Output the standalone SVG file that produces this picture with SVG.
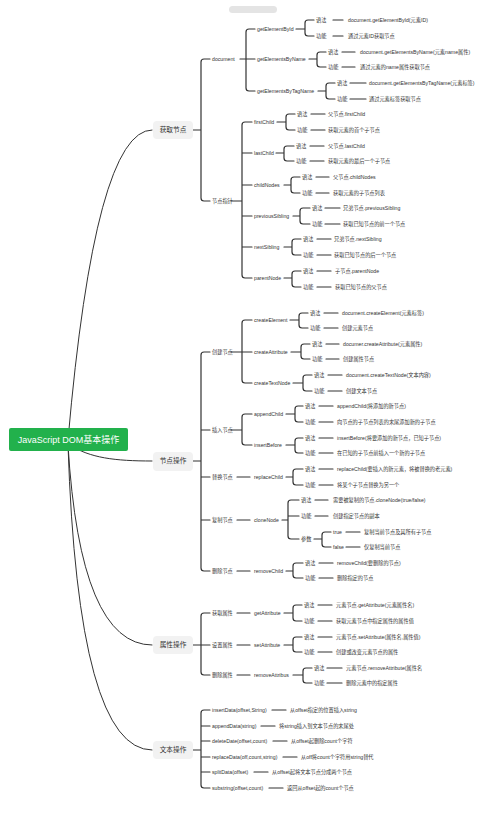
<svg xmlns="http://www.w3.org/2000/svg" width="504" height="825" viewBox="0 0 504 825">
<style>
text{font-family:"Liberation Sans","Noto Sans CJK SC",sans-serif;fill:#333}
.t{font-size:5.2px}
.m{font-size:6.7px;text-anchor:middle}
.r{font-size:9px;fill:#fff;text-anchor:middle}
.box{fill:#f2f2f2}
#connectors path{fill:none;stroke:#333;stroke-width:1.2;stroke-linecap:round}
#connectors .c{stroke-width:1}
</style>
<rect width="504" height="825" fill="#fff"/>
<rect x="229" y="6" width="48" height="7" rx="3.5" fill="#e4e4e4"/>
<g id="connectors">
<path class="c" d="M68,440Q95,130 152,130"/>
<path class="c" d="M70,445C90,458 115,461 152,461"/>
<path class="c" d="M68,445Q80,645 152,645"/>
<path class="c" d="M68,445Q78,750 152,750"/>
<!-- 获取节点 -->
<path d="M193,130H201M210,59H204Q201,59 201,62V198Q201,201 204,201H210"/>
<path d="M240,59H246M255,29H249Q246,29 246,32V88Q246,91 249,91H255M246,59H255"/>
<path d="M296,29H305M314,20H308Q305,20 305,23V33Q305,36 308,36H314M333,20H343M333,36H343"/>
<path d="M309,59H317M326,52H320Q317,52 317,55V64Q317,67 320,67H326M342,52H355M342,67H355"/>
<path d="M318,91H326M335,83H329Q326,83 326,86V96Q326,99 329,99H335M350,83H366M350,99H366"/>
<path d="M231,201H242M252,122H245Q242,122 242,125V275Q242,278 245,278H252M242,153H252M242,185H252M242,216H252M242,247H252"/>
<path d="M277,122H286M295,114H289Q286,114 286,117V127Q286,130 289,130H295M311,114H325M311,130H325"/>
<path d="M276,153H284M294,146H287Q284,146 284,149V158Q284,161 287,161H294M310,146H324M310,161H324"/>
<path d="M284,185H291M300,177H294Q291,177 291,180V190Q291,193 294,193H300M316,177H329M316,193H329"/>
<path d="M293,216H300M310,208H303Q300,208 300,211V221Q300,224 303,224H310M325,208H340M325,224H340"/>
<path d="M284,247H292M301,239H295Q292,239 292,242V252Q292,255 295,255H301M317,239H331M317,255H331"/>
<path d="M284,278H292M301,271H295Q292,271 292,274V284Q292,287 295,287H301M317,271H331M317,287H331"/>
<!-- 节点操作 -->
<path d="M193,461H201M210,352H204Q201,352 201,355V568Q201,571 204,571H210M201,430H210M201,477H210M201,520H210"/>
<path d="M231,352H242M252,320H245Q242,320 242,323V380Q242,383 245,383H252M242,352H252"/>
<path d="M290,320H299M308,313H302Q299,313 299,316V325Q299,328 302,328H308M324,313H338M324,328H338"/>
<path d="M291,352H301M310,344H304Q301,344 301,347V356Q301,359 304,359H310M326,344H339M326,359H339"/>
<path d="M293,383H303M312,375H306Q303,375 303,378V388Q303,391 306,391H312M328,375H342M328,391H342"/>
<path d="M231,430H242M252,414H245Q242,414 242,417V442Q242,445 245,445H252"/>
<path d="M286,414H295M303,406H298Q295,406 295,409V419Q295,422 298,422H303M319,406H333M319,422H333"/>
<path d="M286,445H295M303,438H298Q295,438 295,441V450Q295,453 298,453H303M319,438H333M319,453H333"/>
<path d="M237,477H250M286,477H293M303,469H296Q293,469 293,472V482Q293,485 296,485H303M319,469H333M319,485H333"/>
<path d="M237,520H250M282,520H288M299,500H291Q288,500 288,503V536Q288,539 291,539H299M288,516H299M315,500H328M315,516H328"/>
<path d="M314,539H322M331,532H325Q322,532 322,535V544Q322,547 325,547H331M346,532H360M346,547H360"/>
<path d="M237,571H250M286,571H293M303,563H296Q293,563 293,566V575Q293,578 296,578H303M319,563H333M319,578H333"/>
<!-- 属性操作 -->
<path d="M193,645H201M210,613H204Q201,613 201,616V672Q201,675 204,675H210M201,645H210"/>
<path d="M237,613H250M284,613H293M302,605H296Q293,605 293,608V618Q293,621 296,621H302M318,605H332M318,621H332"/>
<path d="M237,645H250M284,645H293M302,637H296Q293,637 293,640V649Q293,652 296,652H302M318,637H332M318,652H332"/>
<path d="M237,675H250M293,675H303M312,668H306Q303,668 303,671V680Q303,683 306,683H312M327,668H342M327,683H342"/>
<!-- 文本操作 -->
<path d="M193,750H201M210,710H204Q201,710 201,713V785Q201,788 204,788H210M201,726H210M201,741H210M201,757H210M201,772H210"/>
<path d="M272,710H286M261,726H275M273,741H287M283,757H297M254,772H268M269,788H283"/>
</g>
<g id="root"><rect x="9" y="428" width="119" height="23" rx="2" fill="#22b14c"/><text class="r" x="68.5" y="439.5" dy="0.35em">JavaScript DOM基本操作</text></g>
<g id="get-node"><rect class="box" x="153" y="121" width="40" height="18" rx="4"/><text class="m" x="173" y="130" dy="0.35em">获取节点</text></g>
<g id="node-op"><rect class="box" x="153" y="452" width="40" height="19" rx="4"/><text class="m" x="173" y="461" dy="0.35em">节点操作</text></g>
<g id="attr-op"><rect class="box" x="153" y="636" width="40" height="18" rx="4"/><text class="m" x="173" y="645" dy="0.35em">属性操作</text></g>
<g id="text-op"><rect class="box" x="153" y="741" width="40" height="18" rx="4"/><text class="m" x="173" y="750" dy="0.35em">文本操作</text></g>
<g class="t">
<g id="document"><text x="212" y="59" dy="0.35em">document</text></g>
<g id="getElementById"><text x="257" y="29" dy="0.35em">getElementById</text><text x="316" y="20" dy="0.35em">语法</text><text x="348" y="20" dy="0.35em">document.getElementById(元素ID)</text><text x="316" y="36" dy="0.35em">功能</text><text x="348" y="36" dy="0.35em">通过元素ID获取节点</text></g>
<g id="getElementsByName"><text x="257" y="59" dy="0.35em">getElementsByName</text><text x="328" y="52" dy="0.35em">语法</text><text x="360" y="52" dy="0.35em">document.getElementsByName(元素name属性)</text><text x="328" y="67" dy="0.35em">功能</text><text x="360" y="67" dy="0.35em">通过元素的name属性获取节点</text></g>
<g id="getElementsByTagName"><text x="257" y="91" dy="0.35em">getElementsByTagName</text><text x="337" y="83" dy="0.35em">语法</text><text x="369" y="83" dy="0.35em">document.getElementsByTagName(元素标签)</text><text x="337" y="99" dy="0.35em">功能</text><text x="369" y="99" dy="0.35em">通过元素标签获取节点</text></g>
<g id="node-pointer"><text x="212" y="201" dy="0.35em">节点指针</text></g>
<g id="firstChild"><text x="254" y="122" dy="0.35em">firstChild</text><text x="297" y="114" dy="0.35em">语法</text><text x="328" y="114" dy="0.35em">父节点.firstChild</text><text x="297" y="130" dy="0.35em">功能</text><text x="328" y="130" dy="0.35em">获取元素的首个子节点</text></g>
<g id="lastChild"><text x="254" y="153" dy="0.35em">lastChild</text><text x="296" y="146" dy="0.35em">语法</text><text x="328" y="146" dy="0.35em">父节点.lastChild</text><text x="296" y="161" dy="0.35em">功能</text><text x="328" y="161" dy="0.35em">获取元素的最后一个子节点</text></g>
<g id="childNodes"><text x="254" y="185" dy="0.35em">childNodes</text><text x="302" y="177" dy="0.35em">语法</text><text x="333" y="177" dy="0.35em">父节点.childNodes</text><text x="302" y="193" dy="0.35em">功能</text><text x="333" y="193" dy="0.35em">获取元素的子节点列表</text></g>
<g id="previousSibling"><text x="254" y="216" dy="0.35em">previousSibling</text><text x="312" y="208" dy="0.35em">语法</text><text x="343" y="208" dy="0.35em">兄弟节点.previousSibling</text><text x="312" y="224" dy="0.35em">功能</text><text x="343" y="224" dy="0.35em">获取已知节点的前一个节点</text></g>
<g id="nextSibling"><text x="254" y="247" dy="0.35em">nextSibling</text><text x="303" y="239" dy="0.35em">语法</text><text x="334" y="239" dy="0.35em">兄弟节点.nextSibling</text><text x="303" y="255" dy="0.35em">功能</text><text x="334" y="255" dy="0.35em">获取已知节点的后一个节点</text></g>
<g id="parentNode"><text x="254" y="278" dy="0.35em">parentNode</text><text x="303" y="271" dy="0.35em">语法</text><text x="335" y="271" dy="0.35em">子节点.parentNode</text><text x="303" y="287" dy="0.35em">功能</text><text x="335" y="287" dy="0.35em">获取已知节点的父节点</text></g>
<g id="create-node"><text x="212" y="352" dy="0.35em">创建节点</text></g>
<g id="createElement"><text x="254" y="320" dy="0.35em">createElement</text><text x="310" y="313" dy="0.35em">语法</text><text x="342" y="313" dy="0.35em">document.createElement(元素标签)</text><text x="310" y="328" dy="0.35em">功能</text><text x="342" y="328" dy="0.35em">创建元素节点</text></g>
<g id="createAttribute"><text x="254" y="352" dy="0.35em">createAttribute</text><text x="312" y="344" dy="0.35em">语法</text><text x="343" y="344" dy="0.35em">documer.createAttribute(元素属性)</text><text x="312" y="359" dy="0.35em">功能</text><text x="343" y="359" dy="0.35em">创建属性节点</text></g>
<g id="createTextNode"><text x="254" y="383" dy="0.35em">createTextNode</text><text x="314" y="375" dy="0.35em">语法</text><text x="346" y="375" dy="0.35em">document.createTextNode(文本内容)</text><text x="314" y="391" dy="0.35em">功能</text><text x="346" y="391" dy="0.35em">创建文本节点</text></g>
<g id="insert-node"><text x="212" y="430" dy="0.35em">插入节点</text></g>
<g id="appendChild"><text x="254" y="414" dy="0.35em">appendChild</text><text x="305" y="406" dy="0.35em">语法</text><text x="337" y="406" dy="0.35em">appendChild(将添加的新节点)</text><text x="305" y="422" dy="0.35em">功能</text><text x="337" y="422" dy="0.35em">向节点的子节点列表的末尾添加新的子节点</text></g>
<g id="insertBefore"><text x="254" y="445" dy="0.35em">insertBefore</text><text x="305" y="438" dy="0.35em">语法</text><text x="337" y="438" dy="0.35em">insertBefore(将要添加的新节点，已知子节点)</text><text x="305" y="453" dy="0.35em">功能</text><text x="337" y="453" dy="0.35em">在已知的子节点前插入一个新的子节点</text></g>
<g id="replace-node"><text x="212" y="477" dy="0.35em">替换节点</text></g>
<g id="replaceChild"><text x="254" y="477" dy="0.35em">replaceChild</text><text x="305" y="469" dy="0.35em">语法</text><text x="337" y="469" dy="0.35em">replaceChild(要插入的新元素，将被替换的老元素)</text><text x="305" y="485" dy="0.35em">功能</text><text x="337" y="485" dy="0.35em">将某个子节点替换为另一个</text></g>
<g id="copy-node"><text x="212" y="520" dy="0.35em">复制节点</text></g>
<g id="cloneNode"><text x="254" y="520" dy="0.35em">cloneNode</text><text x="301" y="500" dy="0.35em">语法</text><text x="333" y="500" dy="0.35em">需要被复制的节点.cloneNode(true/false)</text><text x="301" y="516" dy="0.35em">功能</text><text x="333" y="516" dy="0.35em">创建指定节点的副本</text><text x="301" y="539" dy="0.35em">参数</text><text x="333" y="532" dy="0.35em">true</text><text x="364" y="532" dy="0.35em">复制当前节点及其所有子节点</text><text x="333" y="547" dy="0.35em">false</text><text x="364" y="547" dy="0.35em">仅复制当前节点</text></g>
<g id="delete-node"><text x="212" y="571" dy="0.35em">删除节点</text></g>
<g id="removeChild"><text x="254" y="571" dy="0.35em">removeChild</text><text x="305" y="563" dy="0.35em">语法</text><text x="337" y="563" dy="0.35em">removeChild(要删除的节点)</text><text x="305" y="578" dy="0.35em">功能</text><text x="337" y="578" dy="0.35em">删除指定的节点</text></g>
<g id="get-attr"><text x="212" y="613" dy="0.35em">获取属性</text></g>
<g id="getAttribute"><text x="254" y="613" dy="0.35em">getAttribute</text><text x="304" y="605" dy="0.35em">语法</text><text x="336" y="605" dy="0.35em">元素节点.getAttribute(元素属性名)</text><text x="304" y="621" dy="0.35em">功能</text><text x="336" y="621" dy="0.35em">获取元素节点中指定属性的属性值</text></g>
<g id="set-attr"><text x="212" y="645" dy="0.35em">设置属性</text></g>
<g id="setAttribute"><text x="254" y="645" dy="0.35em">setAttribute</text><text x="304" y="637" dy="0.35em">语法</text><text x="336" y="637" dy="0.35em">元素节点.setAttribute(属性名,属性值)</text><text x="304" y="652" dy="0.35em">功能</text><text x="336" y="652" dy="0.35em">创建或改变元素节点的属性</text></g>
<g id="delete-attr"><text x="212" y="675" dy="0.35em">删除属性</text></g>
<g id="removeAttribute"><text x="254" y="675" dy="0.35em">removeAttribus</text><text x="314" y="668" dy="0.35em">语法</text><text x="346" y="668" dy="0.35em">元素节点.removeAttribute(属性名</text><text x="314" y="683" dy="0.35em">功能</text><text x="346" y="683" dy="0.35em">删除元素中的指定属性</text></g>
<g id="insertData"><text x="212" y="710" dy="0.35em">insertData(offset,String)</text><text x="290" y="710" dy="0.35em">从offset指定的位置插入string</text></g>
<g id="appendData"><text x="212" y="726" dy="0.35em">appendData(string)</text><text x="279" y="726" dy="0.35em">将string插入到文本节点的末尾处</text></g>
<g id="deleteDate"><text x="212" y="741" dy="0.35em">deleteDate(offset,count)</text><text x="291" y="741" dy="0.35em">从offset起删除count个字符</text></g>
<g id="replaceData"><text x="212" y="757" dy="0.35em">replaceData(off,count,string)</text><text x="301" y="757" dy="0.35em">从off将count个字符用string替代</text></g>
<g id="splitData"><text x="212" y="772" dy="0.35em">splitData(offset)</text><text x="272" y="772" dy="0.35em">从offset起将文本节点分成两个节点</text></g>
<g id="substring"><text x="212" y="788" dy="0.35em">substring(offset,count)</text><text x="287" y="788" dy="0.35em">返回从offset起的count个节点</text></g>
</g>
</svg>
